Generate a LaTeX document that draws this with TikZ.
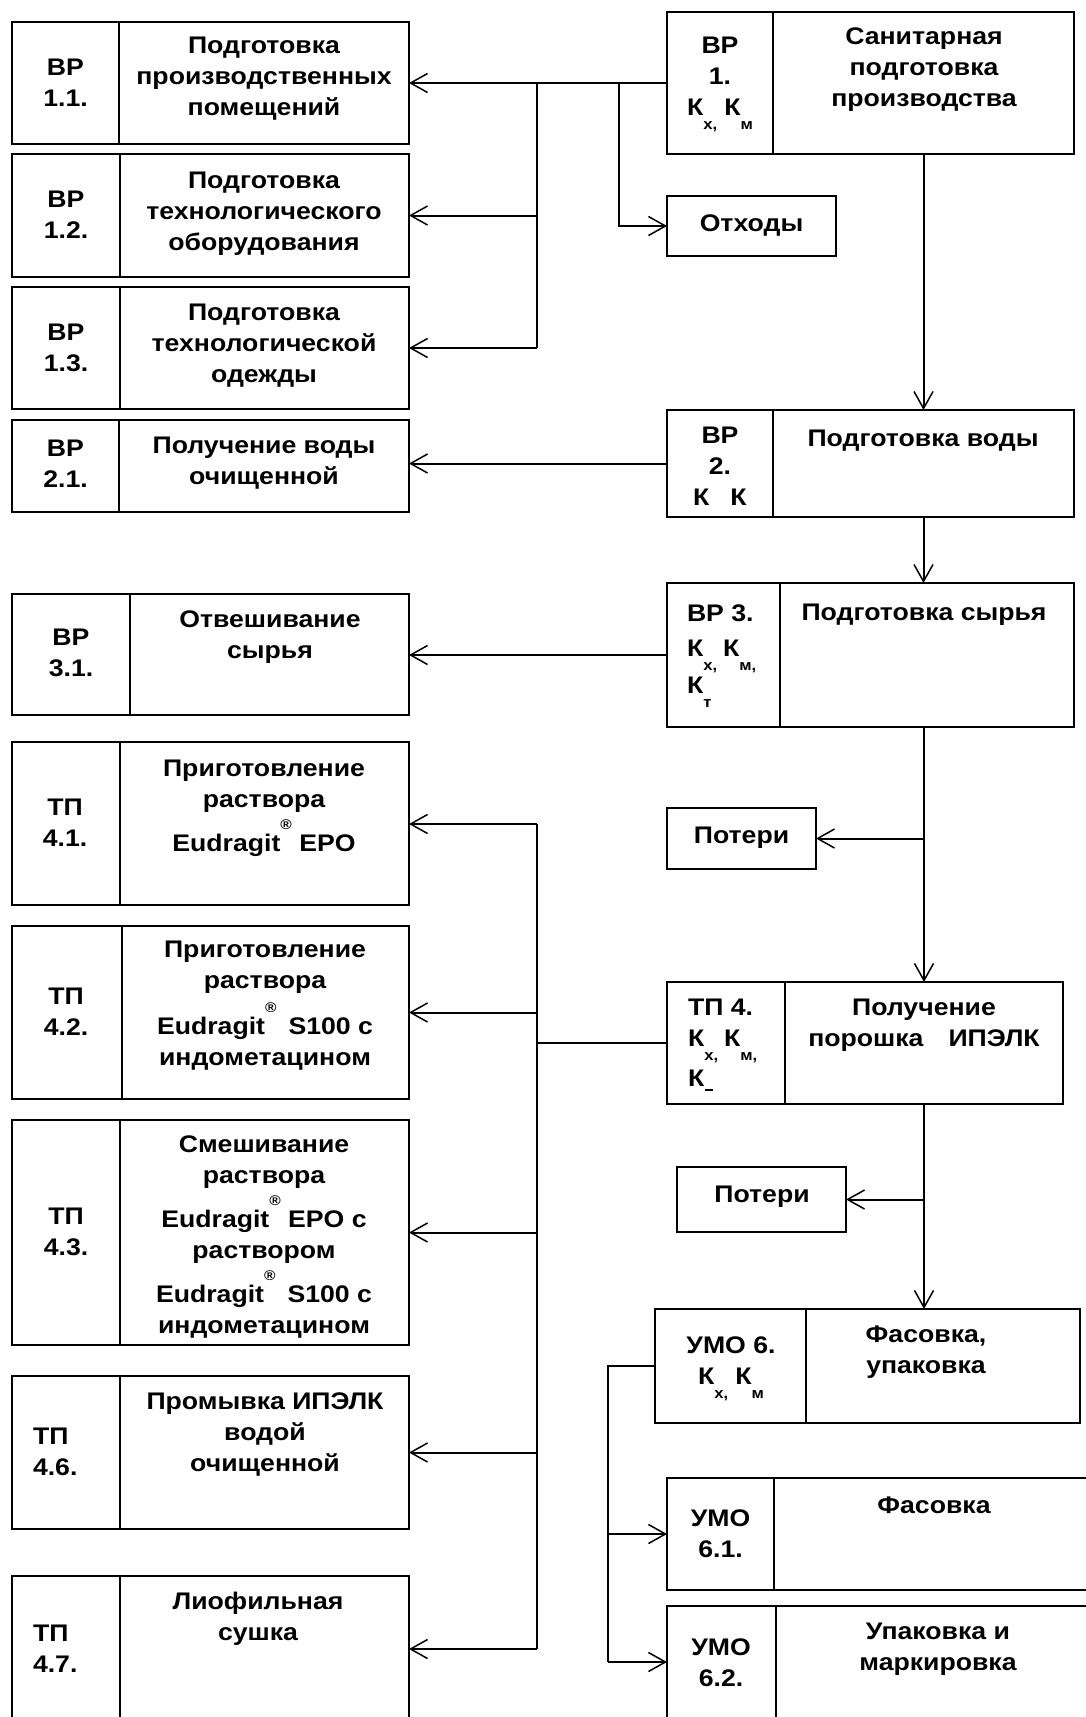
\documentclass[tikz,border=0pt]{standalone}
\usepackage{fontspec}
\setmainfont{Liberation Sans}[FakeStretch=1.11]
\usetikzlibrary{arrows.meta}

\newcommand\bx{\fontsize{24}{31}\selectfont\bfseries}
\newcommand\lowsub[1]{\smash{\raisebox{-14pt}{\fontsize{15}{15}\selectfont #1}}}
\newcommand\regmark{\smash{\raisebox{22pt}{\fontsize{14}{14}\selectfont ®}}}
% two-cell process box: name, x-left, x-divider, x-right, y-top, y-bottom
\newcommand\twocell[6]{%
  \node[cell, minimum width={(#3)-(#2)}, minimum height={(#6)-(#5)}] (#1L) at (#2,#5) {};
  \node[cell, minimum width={(#4)-(#3)}, minimum height={(#6)-(#5)}] (#1R) at (#3,#5) {};}

\tikzset{
  cell/.style={draw, line width=2pt, inner sep=0pt, outer sep=0pt, anchor=north west},
  txt/.style={inner sep=0pt, outer sep=0pt, align=center, anchor=north, yshift=18.5pt,
    font=\bx, execute at begin node={\rule{0pt}{18.5pt}}},
  txtl/.style={txt, align=left, anchor=north west},
  conn/.style={line width=2pt},
  bus/.style={line width=2.6pt},
  arr/.style={-{Straight Barb[length=17pt,width=19pt,line width=1.5pt]}},
}

\begin{document}
\begin{tikzpicture}[x=1pt,y=-1pt]
\useasboundingbox (0,0) rectangle (1086,1717);
\clip (0,0) rectangle (1086,1717);

% ---- boxes of the left column
\twocell{b11}{12}{119}{409}{22}{144}
\twocell{b12}{12}{119.5}{409}{154}{277}
\twocell{b13}{12}{119.5}{409}{287}{409}
\twocell{b21}{12}{119}{409}{420}{512}
\twocell{b31}{12}{130}{409}{594}{715}
\twocell{b41}{12}{119.5}{409}{742}{905}
\twocell{b42}{12}{122}{409}{926}{1099}
\twocell{b43}{12}{119.5}{409}{1120}{1345}
\twocell{b46}{12}{119.5}{409}{1376}{1529}
\twocell{b47}{12}{119.5}{409}{1576}{1740}

% ---- boxes of the main line
\twocell{B1}{667}{773}{1074}{12}{154}
\node[cell, minimum width=169, minimum height=60] (waste) at (667,196) {};
\twocell{B2}{667}{773}{1074}{410}{517}
\twocell{B3}{667}{780}{1074}{583}{727}
\node[cell, minimum width=149, minimum height=61] (loss1) at (667,808) {};
\twocell{B4}{667}{785}{1063}{982}{1104}
\node[cell, minimum width=169, minimum height=65] (loss2) at (677,1167) {};
\twocell{B6}{655}{806}{1080}{1309}{1423}
\twocell{b61}{667}{774}{1110}{1478}{1590}
\twocell{b62}{667}{776}{1110}{1606}{1740}

% ---- texts, left column
\node[txt] (t11L) at (65.5,77) {ВР\\1.1.};
\node[txt] (t11R) at (264,55) {Подготовка\\производственных\\помещений};
\node[txt] (t12L) at (66,209) {ВР\\1.2.};
\node[txt] (t12R) at (264,190) {Подготовка\\технологического\\оборудования};
\node[txt] (t13L) at (66,342) {ВР\\1.3.};
\node[txt] (t13R) at (264,322) {Подготовка\\технологической\\одежды};
\node[txt] (t21L) at (65.5,458) {ВР\\2.1.};
\node[txt] (t21R) at (264,455) {Получение воды\\очищенной};
\node[txt] (t31L) at (71,647) {ВР\\3.1.};
\node[txt] (t31R) at (270,629) {Отвешивание\\сырья};
\node[txt] (t41L) at (65,817) {ТП\\4.1.};
\node[txt] (t41R) at (264,778) {Приготовление\\раствора\\[13pt]Eudragit\regmark{} EPO};
\node[txt] (t42L) at (66,1006) {ТП\\4.2.};
\node[txt] (t42R) at (265,959) {Приготовление\\раствора\\[15pt]Eudragit\regmark\hspace{12pt}S100 с\\индометацином};
\node[txt] (t43L) at (66,1226) {ТП\\4.3.};
\node[txt] (t43R) at (264,1154) {Смешивание\\раствора\\[13pt]Eudragit\regmark{} EPO с\\раствором\\[13pt]Eudragit\regmark\hspace{12pt}S100 с\\индометацином};
\node[txtl] (t46L) at (33,1446) {ТП\\4.6.};
\node[txt] (t46R) at (265,1411) {Промывка ИПЭЛК\\водой\\очищенной};
\node[txtl] (t47L) at (33,1643) {ТП\\4.7.};
\node[txt] (t47R) at (258,1611) {Лиофильная\\сушка};

% ---- texts, main line
\node[txt] (tB1L) at (720,55) {ВР\\1.\\К\lowsub{х,}\hspace{7pt}К\lowsub{м}};
\node[txt] (tB1R) at (924,46) {Санитарная\\подготовка\\производства};
\node[txt] (twaste) at (751.5,231) {Отходы};
\node[txt] (tB2L) at (720,445) {ВР\\2.\\К\hspace{21pt}К};
\node[txt] (tB2R) at (923,446) {Подготовка воды};
\node[txtl] (tB3L) at (687,623) {ВР 3.\\[4pt]К\lowsub{х,}\hspace{6pt}К\lowsub{м,}\\[6pt]К\lowsub{т}};
\node[txt] (tB3R) at (924,620) {Подготовка сырья};
\node[txt] (tloss1) at (741.5,843) {Потери};
\node[txtl] (tB4L) at (688,1017) {ТП 4.\\К\lowsub{х,}\hspace{6pt}К\lowsub{м,}\\[9pt]К\kern1pt\raisebox{-5pt}{\rule{8pt}{1.6pt}}};
\node[txt] (tB4R) at (924,1017) {Получение\\порошка\hspace{25pt}ИПЭЛК};
\node[txt] (tloss2) at (762,1202) {Потери};
\node[txt] (tB6L) at (731,1355) {УМО 6.\\К\lowsub{х,}\hspace{7pt}К\lowsub{м}};
\node[txt] (tB6R) at (926,1344) {Фасовка,\\упаковка};
\node[txt] (t61L) at (720.5,1528) {УМО\\6.1.};
\node[txt] (t61R) at (934,1513) {Фасовка};
\node[txt] (t62L) at (721,1657) {УМО\\6.2.};
\node[txt] (t62R) at (938,1641) {Упаковка и\\маркировка};

% ---- connectors: sanitary preparation
\coordinate (j1) at (537,83);
\coordinate (j2) at (537,348);
\coordinate (j3) at (619,83);
\draw[conn] (B1L.west) -- (j1) -- (j2);
\draw[conn,arr] (j1) -- (b11R.east);
\draw[conn,arr] (j1 |- b12R.east) -- (b12R.east);
\draw[conn,arr] (j2) -- (b13R.east);
\draw[conn,arr] (j3) |- (waste.west);

% ---- connectors: main line
\draw[conn,arr] (B1R.south) -- (B2R.north);
\draw[conn,arr] (B2L.west) -- (B2L.west -| b21R.east);
\draw[conn,arr] (B2R.south) -- (B2R.south |- B3R.north);
\draw[conn,arr] (B3L.west) -- (B3L.west -| b31R.east);
\draw[conn,arr] (B4R.north |- B3R.south) -- (B4R.north);
\draw[conn,arr] (B4R.north |- loss1.east) -- (loss1.east);
\draw[conn,arr] (B4R.south) -- (B4R.south |- B6R.north);
\draw[conn,arr] (B4R.south |- loss2.east) -- (loss2.east);

% ---- connectors: technological steps of stage 4
\coordinate (k1) at (537,824);
\coordinate (k2) at (537,1649);
\draw[bus] (B4L.west) -- (B4L.west -| k1);
\draw[bus] (k1) -- (k2);
\draw[conn,arr] (k1) -- (k1 -| b41R.east);
\draw[conn,arr] (k1 |- b42R.east) -- (b42R.east);
\draw[conn,arr] (k1 |- b43R.east) -- (b43R.east);
\draw[conn,arr] (k1 |- b46R.east) -- (b46R.east);
\draw[conn,arr] (k2) -- (k2 -| b47R.east);

% ---- connectors: packing
\coordinate (m1) at (608,1366);
\coordinate (m2) at (608,1662);
\draw[conn] (B6L.west) -- (m1) -- (m2);
\draw[conn,arr] (m1 |- b61L.west) -- (b61L.west);
\draw[conn,arr] (m2) -- (m2 -| b62L.west);
\end{tikzpicture}
\end{document}
